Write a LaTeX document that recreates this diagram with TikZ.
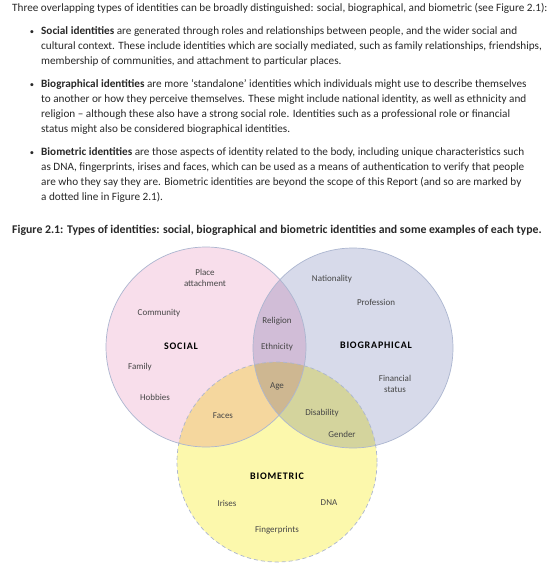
\documentclass[tikz,border=0pt]{standalone}
\usepackage{fontspec}
\setmainfont{Carlito}
\usetikzlibrary{positioning}

\definecolor{socialcolor}{RGB}{248,222,235}
\definecolor{biocolor}{RGB}{215,218,234}
\definecolor{biometcolor}{RGB}{252,248,172}
\definecolor{edgecolor}{RGB}{172,182,208}
\definecolor{textcolor}{RGB}{40,40,40}
\definecolor{labelcolor}{RGB}{70,70,70}

\tikzset{
  %% idset : one of the three identity circles
  idset/.style={
    circle,
    minimum size=200pt,
    inner sep=0pt
  },
  %% rim : outline of a circle
  rim/.style={
    draw=edgecolor,
    line width=0.7pt
  },
  %% para : one line of the running text
  para/.style={
    anchor=base west,
    inner sep=0pt,
    text=textcolor,
    font=\fontsize{11.2}{13}\selectfont
  },
  %% bullet : the bullet in front of a paragraph
  bullet/.style={
    anchor=base,
    inner sep=0pt,
    text=textcolor,
    font=\fontsize{8.5}{10}\selectfont
  },
  %% example : an example inside the diagram
  example/.style={
    align=center,
    inner sep=0pt,
    text=labelcolor,
    font=\fontsize{9}{11}\selectfont
  },
  %% settitle : name of a circle
  settitle/.style={
    inner sep=0pt,
    text=black,
    font=\fontsize{10}{12}\selectfont\bfseries\addfontfeature{LetterSpace=8}
  }
}

\begin{document}
\begin{tikzpicture}
  [x=1pt,
  y=-1pt]

  \useasboundingbox (0,0) rectangle (553,565);
  \fill[white] (0,0) rectangle (553,565);

  %% Running text
  \node (intro) [para] at (12,11.5) {%
    Three overlapping types of identities can be broadly distinguished: social, biographical, and biometric (see Figure 2.1):};

  \node (bsoc) [bullet] at (32,34.5) {\textbullet};
  \node (soc1) [para] at (41,34.5) {%
    \textbf{Social identities} are generated through roles and relationships between people, and the wider social and};
  \node (soc2) [para] at (41,49.5) {%
    cultural context. These include identities which are socially mediated, such as family relationships, friendships,};
  \node (soc3) [para] at (41,64.5) {%
    membership of communities, and attachment to particular places.};

  \node (bbio) [bullet] at (32,87.5) {\textbullet};
  \node (bio1) [para] at (41,87.5) {%
    \textbf{Biographical identities} are more `standalone' identities which individuals might use to describe themselves};
  \node (bio2) [para] at (41,102.5) {%
    to another or how they perceive themselves. These might include national identity, as well as ethnicity and};
  \node (bio3) [para] at (41,117.5) {%
    religion -- although these also have a strong social role. Identities such as a professional role or financial};
  \node (bio4) [para] at (41,132.5) {%
    status might also be considered biographical identities.};

  \node (bmet) [bullet] at (32,155.5) {\textbullet};
  \node (met1) [para] at (41,155.5) {%
    \textbf{Biometric identities} are those aspects of identity related to the body, including unique characteristics such};
  \node (met2) [para] at (41,170.5) {%
    as DNA, fingerprints, irises and faces, which can be used as a means of authentication to verify that people};
  \node (met3) [para] at (41,185.5) {%
    are who they say they are. Biometric identities are beyond the scope of this Report (and so are marked by};
  \node (met4) [para] at (41,200.5) {%
    a dotted line in Figure 2.1).};

  \node (caption) [para, font=\fontsize{11.8}{13}\selectfont\bfseries]
    at (12,233.5) {%
    Figure 2.1: Types of identities: social, biographical and biometric identities and some examples of each type.};

  %% The three circles
  \begin{scope}[blend group=multiply]
    \node (social) [idset, fill=socialcolor] at (206,347) {};
    \node (biographical) [idset, fill=biocolor] at (353,348) {};
    \node (biometric) [idset, fill=biometcolor] at (277,462) {};
  \end{scope}
  \draw [rim] (social.center) circle (100pt);
  \draw [rim] (biographical.center) circle (100pt);
  \draw [rim, dash pattern=on 4pt off 3pt] (biometric.center) circle (100pt);

  %% Names of the circles
  \node (sociallabel) [settitle] at (181,346) {SOCIAL};
  \node (biolabel) [settitle] at (376,345) {BIOGRAPHICAL};
  \node (metlabel) [settitle] at (277,476) {BIOMETRIC};

  %% Examples
  \node (place) [example] at (205,277.5) {Place\\attachment};
  \node (community) [example] at (159,313) {Community};
  \node (family) [example] at (140,367) {Family};
  \node (hobbies) [example] at (155,397) {Hobbies};
  \node (religion) [example] at (277,321) {Religion};
  \node (ethnicity) [example] at (277,347) {Ethnicity};
  \node (age) [example] at (277,386) {Age};
  \node (faces) [example] at (223,416) {Faces};
  \node (nationality) [example] at (332,279) {Nationality};
  \node (profession) [example] at (376,302) {Profession};
  \node (financial) [example] at (395,383.5) {Financial\\status};
  \node (disability) [example] at (322,413) {Disability};
  \node (gender) [example] at (342,434) {Gender};
  \node (irises) [example] at (227,503) {Irises};
  \node (dna) [example] at (329,503) {DNA};
  \node (fingerprints) [example] at (277,530) {Fingerprints};

\end{tikzpicture}
\end{document}
